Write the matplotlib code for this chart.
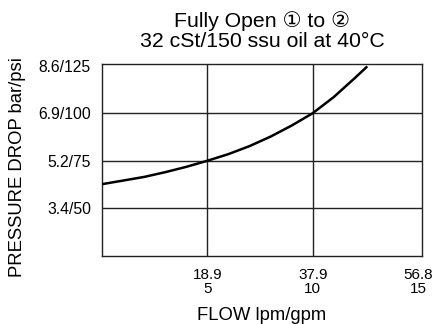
import matplotlib
matplotlib.use("Agg")
import matplotlib.pyplot as plt

plt.rcParams['font.family'] = ['Liberation Sans', 'DejaVu Sans']

# pressure drop curve, flow in gpm / pressure in psi
flow_gpm = [0, 0.9, 2.0, 3.0, 4.0, 5.0, 6.0, 7.0, 8.0, 9.0, 10.0, 11.0, 12.0, 12.59]
drop_psi = [62.7, 64.4, 66.5, 69.0, 71.8, 75.0, 78.5, 82.7, 87.7, 93.5, 100.0, 108.5, 118.5, 124.6]

x_ticks = [5, 10, 15]
x_labels = ['18.9\n5', '37.9\n10', '56.8\n15']
y_ticks = [50, 75, 100, 125]
y_labels = ['3.4/50', '5.2/75', '6.9/100', '8.6/125']

W, H = 433, 324
fig = plt.figure(figsize=(W / 100, H / 100), dpi=100)
ax = fig.add_axes([102 / W, 1 - 255.7 / H, (422.3 - 102) / W, (255.7 - 64.3) / H])

for xv in x_ticks[:-1]:
    ax.axvline(xv, color='#222222', lw=1.0, zorder=1)
for yv in y_ticks[:-1]:
    ax.axhline(yv, color='#222222', lw=1.0, zorder=1)

ax.plot(flow_gpm, drop_psi, color='black', lw=1.8, zorder=3,
        solid_capstyle='butt', solid_joinstyle='round')

ax.set_xlim(0, 15.2)
ax.set_ylim(25.1, 125.7)
ax.set_xticks(x_ticks)
ax.set_xticklabels(x_labels, fontsize=11, linespacing=0.95)
ax.set_yticks(y_ticks)
ax.set_yticklabels(y_labels, fontsize=11.3)
ax.tick_params(axis='x', length=0, pad=9)
ax.tick_params(axis='y', length=0, pad=8)
for s in ax.spines.values():
    s.set_color('#222222')
    s.set_linewidth(1.0)

# titles and axis labels placed in pixel terms
cx = 262 / W
fig.text(cx, 1 - 26.8 / H, 'Fully Open \u2460 to \u2461', fontsize=15.3,
         ha='center', va='baseline')
fig.text(cx, 1 - 47.2 / H, '32 cSt/150 ssu oil at 40°C', fontsize=15.3,
         ha='center', va='baseline')
fig.text(cx, 1 - 320.5 / H, 'FLOW lpm/gpm', fontsize=13.3,
         ha='center', va='baseline')
fig.text(18 / W, 1 - 167 / H, 'PRESSURE DROP bar/psi', fontsize=13.3,
         rotation=90, ha='center', va='center')

fig.savefig('out.png', dpi=100)
